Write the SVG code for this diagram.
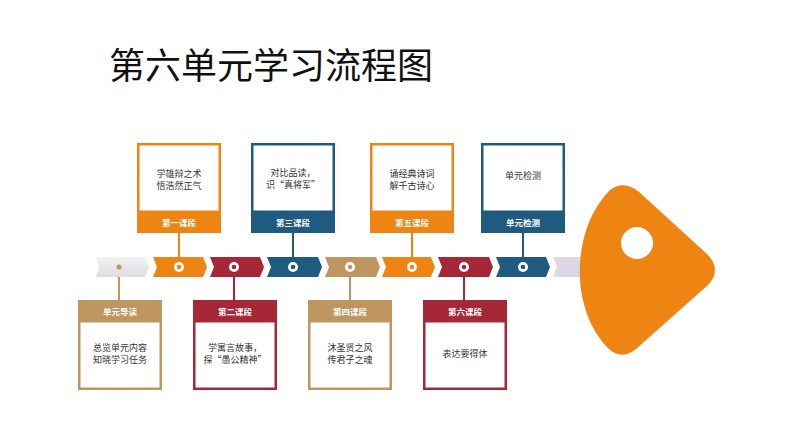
<svg xmlns="http://www.w3.org/2000/svg" width="794" height="447" viewBox="0 0 794 447">
<defs>
<style>
.title{font-family:"Noto Sans CJK SC","Liberation Sans",sans-serif;font-size:36px;fill:#111}
.hd{font-family:"Noto Sans CJK SC","Liberation Sans",sans-serif;font-size:8.5px;font-weight:bold;fill:#fff;text-anchor:middle}
.bd{font-family:"Noto Sans CJK SC","Liberation Sans",sans-serif;font-size:9px;fill:#333;text-anchor:middle}
.or{fill:#EE8512}.rd{fill:#A52738}.bl{fill:#1F5A80}.tn{fill:#BF9660}
.ln{stroke-width:2;fill:none}
.inner{fill:#fff}
</style>
<linearGradient id="gw" x1="0" y1="0" x2="0" y2="1"><stop offset="0" stop-color="#f2f2f4"/><stop offset="1" stop-color="#dcdce2"/></linearGradient>
</defs>
<rect width="794" height="447" fill="#fff"/>
<text class="title" x="109" y="79">第六单元学习流程图</text>

<g id="connectors">
<line class="ln" x1="179" y1="233" x2="179" y2="257" stroke="#EE8512"/>
<line class="ln" x1="293" y1="233" x2="293" y2="257" stroke="#1F5A80"/>
<line class="ln" x1="412" y1="233" x2="412" y2="257" stroke="#EE8512"/>
<line class="ln" x1="523" y1="233" x2="523" y2="257" stroke="#1F5A80"/>
<line class="ln" x1="119" y1="277" x2="119" y2="300" stroke="#BF9660"/>
<line class="ln" x1="234" y1="277" x2="234" y2="300" stroke="#A52738"/>
<line class="ln" x1="350" y1="277" x2="350" y2="300" stroke="#BF9660"/>
<line class="ln" x1="464" y1="277" x2="464" y2="300" stroke="#A52738"/>
</g>

<g id="timeline">
<polygon points="553,257 600,257 600,277 553,277 557,267" fill="#DCD8E8"/>
<polygon points="96,257 145,257 149,267 145,277 96,277 99,267" fill="url(#gw)"/>
<polygon class="or" points="153,257 203,257 207,267 203,277 153,277 157,267"/>
<polygon class="rd" points="210,257 260,257 264,267 260,277 210,277 214,267"/>
<polygon class="bl" points="267,257 318,257 322,267 318,277 267,277 271,267"/>
<polygon class="tn" points="325,257 376,257 380,267 376,277 325,277 329,267"/>
<polygon class="or" points="382,257 431,257 435,267 431,277 382,277 386,267"/>
<polygon class="rd" points="438,257 489,257 493,267 489,277 438,277 442,267"/>
<polygon class="bl" points="496,257 546,257 550,267 546,277 496,277 500,267"/>
<circle cx="119" cy="267" r="2.5" fill="#BF9660"/>
<g fill="#fff">
<circle cx="179" cy="267" r="5"/><circle cx="234" cy="267" r="5"/><circle cx="293" cy="267" r="5"/><circle cx="350" cy="267" r="5"/>
<circle cx="412" cy="267" r="5"/><circle cx="464" cy="267" r="5"/><circle cx="523" cy="267" r="5"/>
</g>
<circle class="or" cx="179" cy="267" r="2.3"/><circle class="rd" cx="234" cy="267" r="2.3"/><circle class="bl" cx="293" cy="267" r="2.3"/><circle class="tn" cx="350" cy="267" r="2.3"/>
<circle class="or" cx="412" cy="267" r="2.3"/><circle class="rd" cx="464" cy="267" r="2.3"/><circle class="bl" cx="523" cy="267" r="2.3"/>
</g>

<g id="key">
<path d="M610,190 Q623,180 638,191 L708,255 Q722,270 708,285 L636,349 Q621,361 608,348 C570,310 570,230 610,190 Z" fill="#EE8512"/>
<circle cx="637" cy="243" r="16" fill="#fff"/>
</g>

<g id="stage1">
<rect class="or" x="137" y="143" width="84" height="90"/>
<rect class="inner" x="139.5" y="145.5" width="79" height="65"/>
<text class="bd" x="179" y="177">学雄辩之术</text>
<text class="bd" x="179" y="189">悟浩然正气</text>
<text class="hd" x="179" y="226">第一课段</text>
</g>
<g id="stage3">
<rect class="bl" x="251" y="143" width="84" height="90"/>
<rect class="inner" x="253.5" y="145.5" width="79" height="65"/>
<text class="bd" x="293" y="176">对比品读，</text>
<text class="bd" x="293" y="188">识“真将军”</text>
<text class="hd" x="293" y="226">第三课段</text>
</g>
<g id="stage5">
<rect class="or" x="370" y="143" width="84" height="90"/>
<rect class="inner" x="372.5" y="145.5" width="79" height="65"/>
<text class="bd" x="412" y="177">诵经典诗词</text>
<text class="bd" x="412" y="189">解千古诗心</text>
<text class="hd" x="412" y="226">第五课段</text>
</g>
<g id="test">
<rect class="bl" x="481" y="143" width="84" height="90"/>
<rect class="inner" x="483.5" y="145.5" width="79" height="65"/>
<text class="bd" x="523" y="179">单元检测</text>
<text class="hd" x="523" y="226">单元检测</text>
</g>

<g id="intro">
<rect class="tn" x="78" y="300" width="84" height="90"/>
<rect class="inner" x="80.5" y="322.5" width="79" height="65"/>
<text class="hd" x="120" y="315">单元导读</text>
<text class="bd" x="120" y="351">总览单元内容</text>
<text class="bd" x="120" y="363">知晓学习任务</text>
</g>
<g id="stage2">
<rect class="rd" x="193" y="300" width="84" height="90"/>
<rect class="inner" x="195.5" y="322.5" width="79" height="65"/>
<text class="hd" x="235" y="315">第二课段</text>
<text class="bd" x="235" y="351">学寓言故事，</text>
<text class="bd" x="235" y="363">探“愚公精神”</text>
</g>
<g id="stage4">
<rect class="tn" x="308" y="300" width="84" height="90"/>
<rect class="inner" x="310.5" y="322.5" width="79" height="65"/>
<text class="hd" x="350" y="315">第四课段</text>
<text class="bd" x="350" y="351">沐圣贤之风</text>
<text class="bd" x="350" y="363">传君子之魂</text>
</g>
<g id="stage6">
<rect class="rd" x="423" y="300" width="84" height="90"/>
<rect class="inner" x="425.5" y="322.5" width="79" height="65"/>
<text class="hd" x="465" y="315">第六课段</text>
<text class="bd" x="465" y="357">表达要得体</text>
</g>
</svg>
